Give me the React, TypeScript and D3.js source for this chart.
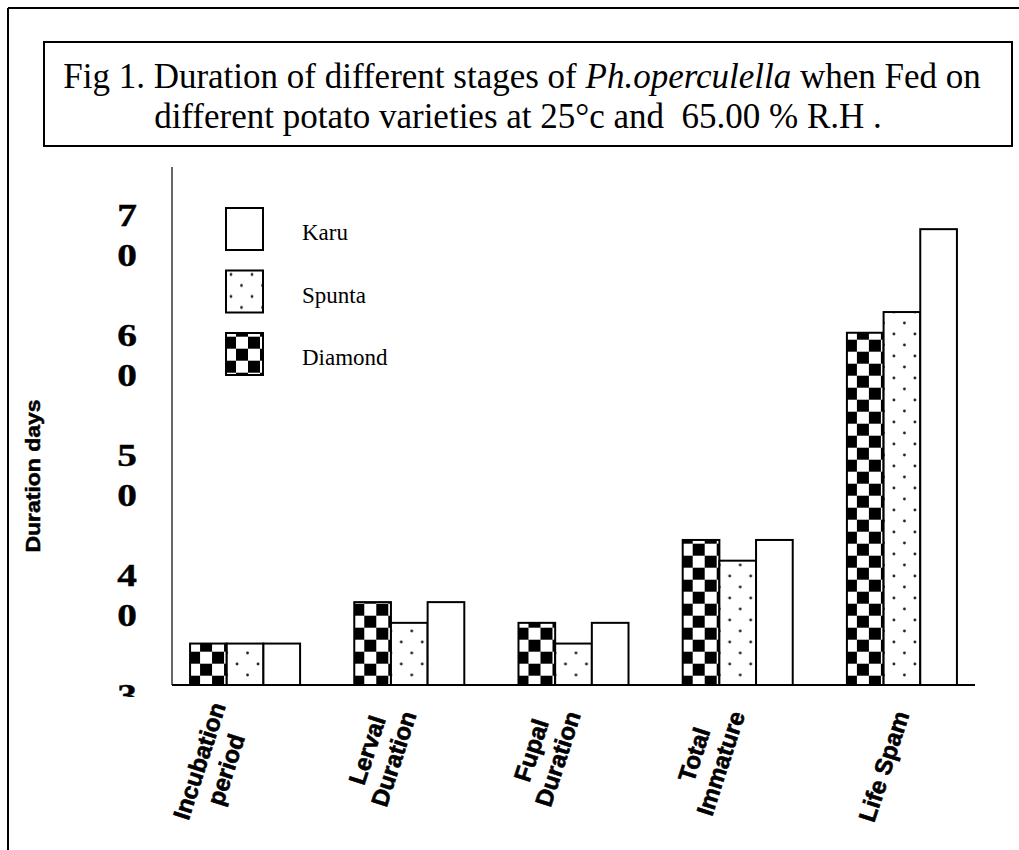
import * as d3 from "d3";
import { useEffect, useRef } from "react";

// stages on the x axis, each label split in its printed lines
const stages = ["Incubation period", "Lerval Duration", "Fupal Duration", "Total Immature", "Life Spam"];
const stageLines = [
  ["Incubation", "period"],
  ["Lerval", "Duration"],
  ["Fupal", "Duration"],
  ["Total", "Immature"],
  ["Life Spam"],
];

// potato varieties, in bar order inside a group
const varieties = ["Diamond", "Spunta", "Karu"];
const legendOrder = ["Karu", "Spunta", "Diamond"];

// duration values (axis units)
const diamondValues = [34, 38, 36, 44, 64];
const spuntaValues = [34, 36, 34, 42, 66];
const karuValues = [34, 38, 36, 44, 74];

const yTicks = [30, 40, 50, 60, 70];

const W = 1019;
const H = 850;

export default function App(): JSX.Element {
  const svgRef = useRef<SVGSVGElement>(null);

  useEffect(() => {
    if (!svgRef.current) return;
    const root = d3.select(svgRef.current);
    root.selectAll("*").remove();

    const serif = "'Liberation Serif', 'Times New Roman', serif";
    const sans = "'Liberation Sans', Arial, sans-serif";

    const values: Record<string, number[]> = {
      Diamond: diamondValues,
      Spunta: spuntaValues,
      Karu: karuValues,
    };

    const x0 = d3.scaleBand<string>().domain(stages).range([172, 975]).paddingInner(0.33).paddingOuter(0.11);
    const x1 = d3.scaleBand<string>().domain(varieties).range([0, x0.bandwidth()]);
    const y = d3.scaleLinear().domain([30, 80]).range([685, 167]);
    // the printed tick labels do not sit on the bar scale, they have their own spacing
    const yLabel = d3.scaleLinear().domain([30, 70]).range([696, 216]);

    // patterns
    const defs = root.append("defs");
    const checker = defs
      .append("pattern")
      .attr("id", "checker")
      .attr("patternUnits", "userSpaceOnUse")
      .attr("x", 190)
      .attr("y", 651.7)
      .attr("width", 24)
      .attr("height", 24);
    checker.append("rect").attr("width", 24).attr("height", 24).attr("fill", "#fff");
    checker.append("rect").attr("width", 12).attr("height", 12).attr("fill", "#000");
    checker.append("rect").attr("x", 12).attr("y", 12).attr("width", 12).attr("height", 12).attr("fill", "#000");

    const dots = defs
      .append("pattern")
      .attr("id", "dots")
      .attr("patternUnits", "userSpaceOnUse")
      .attr("x", 231)
      .attr("y", 285)
      .attr("width", 21)
      .attr("height", 22);
    dots.append("rect").attr("width", 21).attr("height", 22).attr("fill", "#fff");
    dots.append("circle").attr("cx", 5).attr("cy", 5).attr("r", 1.4).attr("fill", "#222");
    dots.append("circle").attr("cx", 15.5).attr("cy", 16).attr("r", 1.4).attr("fill", "#222");

    defs
      .append("clipPath")
      .attr("id", "tickclip")
      .append("rect")
      .attr("x", 0)
      .attr("y", 0)
      .attr("width", 172)
      .attr("height", 697);

    const fillFor = (v: string) => (v === "Diamond" ? "url(#checker)" : v === "Spunta" ? "url(#dots)" : "#fff");

    // outer frame (top and left only)
    root.append("line").attr("x1", 8).attr("y1", 8).attr("x2", W).attr("y2", 8).attr("stroke", "#000").attr("stroke-width", 2);
    root.append("line").attr("x1", 8).attr("y1", 8).attr("x2", 8).attr("y2", H).attr("stroke", "#000").attr("stroke-width", 2);

    // title box
    root
      .append("rect")
      .attr("x", 44)
      .attr("y", 42)
      .attr("width", 968)
      .attr("height", 104)
      .attr("fill", "none")
      .attr("stroke", "#000")
      .attr("stroke-width", 2);

    const title1 = root
      .append("text")
      .attr("x", 522)
      .attr("y", 88)
      .attr("text-anchor", "middle")
      .style("font-family", serif)
      .style("font-size", "35px");
    title1.append("tspan").text("Fig 1. Duration of different stages of ");
    title1.append("tspan").style("font-style", "italic").text("Ph.operculella");
    title1.append("tspan").text(" when Fed on");

    root
      .append("text")
      .attr("x", 518)
      .attr("y", 128)
      .attr("text-anchor", "middle")
      .style("font-family", serif)
      .style("font-size", "35px")
      .style("white-space", "pre")
      .text("different potato varieties at 25°c and  65.00 % R.H .");

    // bars
    const groups = root
      .append("g")
      .selectAll("g")
      .data(stages)
      .join("g")
      .attr("transform", (d) => `translate(${x0(d)},0)`);

    groups
      .selectAll("rect")
      .data((d, i) => varieties.map((v) => ({ v, value: values[v][i] })))
      .join("rect")
      .attr("x", (d) => x1(d.v)!)
      .attr("y", (d) => y(d.value))
      .attr("width", x1.bandwidth())
      .attr("height", (d) => y(30) - y(d.value))
      .attr("fill", (d) => fillFor(d.v))
      .attr("stroke", "#000")
      .attr("stroke-width", 2);

    // axes lines
    root
      .append("line")
      .attr("x1", 172)
      .attr("x2", 172)
      .attr("y1", y(80))
      .attr("y2", y(30))
      .attr("stroke", "#000")
      .attr("stroke-width", 1.2);
    root
      .append("line")
      .attr("x1", x0.range()[0])
      .attr("x2", x0.range()[1])
      .attr("y1", y(30))
      .attr("y2", y(30))
      .attr("stroke", "#000")
      .attr("stroke-width", 2);

    // y tick labels, wrapped one digit per line
    const ticks = root.append("g").attr("clip-path", "url(#tickclip)");
    yTicks.forEach((t) => {
      const txt = ticks
        .append("text")
        .attr("transform", `translate(127,${yLabel(t)}) scale(1.27,1)`)
        .attr("text-anchor", "middle")
        .attr("stroke", "#000")
        .attr("stroke-width", 0.4)
        .style("font-family", serif)
        .style("font-weight", "bold")
        .style("font-size", "31px");
      String(t)
        .split("")
        .forEach((ch, j) => {
          txt.append("tspan").attr("x", 0).attr("y", 10 + j * 40).text(ch);
        });
    });

    // y axis title
    root
      .append("text")
      .attr("transform", `translate(40,476) rotate(-90)`)
      .attr("text-anchor", "middle")
      .attr("textLength", 153)
      .attr("lengthAdjust", "spacingAndGlyphs")
      .attr("stroke", "#000")
      .attr("stroke-width", 0.5)
      .style("font-family", sans)
      .style("font-weight", "bold")
      .style("font-size", "20px")
      .text("Duration days");

    // category labels, rotated, lines centred, block ending under the group centre
    stages.forEach((s, i) => {
      const lines = stageLines[i];
      const gc = x0(s)! + x0.bandwidth() / 2;
      const g = root.append("g").attr("transform", `translate(${gc},712) rotate(-72)`);
      const texts = lines.map((ln) =>
        g
          .append("text")
          .attr("text-anchor", "middle")
          .attr("stroke", "#000")
          .attr("stroke-width", 0.6)
          .style("font-family", sans)
          .style("font-weight", "bold")
          .style("font-size", "24px")
          .text(ln)
      );
      const lmax = d3.max(texts, (t) => (t.node() as SVGTextElement).getComputedTextLength()) || 0;
      texts.forEach((t, j) => {
        t.attr("x", -lmax / 2).attr("y", 8 - (lines.length - 1 - j) * 28);
      });
    });

    // legend
    const legend = root
      .append("g")
      .selectAll("g")
      .data(legendOrder)
      .join("g")
      .attr("transform", (d, i) => `translate(226,${208 + i * 62.5})`);
    legend
      .append("rect")
      .attr("width", 37)
      .attr("height", 42)
      .attr("fill", (d) => fillFor(d))
      .attr("stroke", "#000")
      .attr("stroke-width", 2);
    legend
      .append("text")
      .attr("x", 76)
      .attr("y", 32)
      .style("font-family", serif)
      .style("font-size", "23px")
      .text((d) => d);
  }, []);

  return (
    <svg
      ref={svgRef}
      width={W}
      height={H}
      style={{ position: "absolute", left: 0, top: 0, background: "#fff" }}
    />
  );
}
